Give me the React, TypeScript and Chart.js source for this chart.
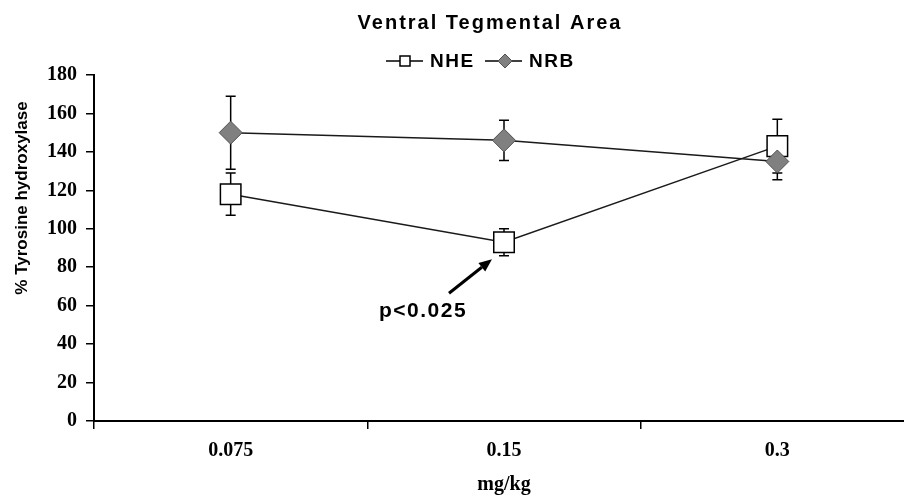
import React, { useEffect, useRef } from 'react';
import { Chart, registerables } from 'chart.js';

Chart.register(...registerables);

// ---- data ----
const doses = ['0.075', '0.15', '0.3'];
const nheValues = [118, 93, 143];
const nheErrors = [11, 7, 14];
const nrbValues = [150, 146, 135];
const nrbErrors = [19, 10.5, 9.5];
const yMin = 0;
const yMax = 180;
const yStep = 20;
const chartTitle = 'Ventral Tegmental Area';
const yTitle = '% Tyrosine hydroxylase';
const xTitle = 'mg/kg';
const pLabel = 'p<0.025';
const seriesNames = ['NHE', 'NRB'];

const W = 930;
const H = 497;
const SANS = '"Liberation Sans", Arial, sans-serif';
const SERIF = '"Liberation Serif", "Times New Roman", serif';

const errorBars = {
  id: 'errorBars',
  beforeDatasetsDraw(chart: any) {
    const ctx = chart.ctx;
    const ys = chart.scales.y;
    chart.data.datasets.forEach((ds: any, i: number) => {
      const meta = chart.getDatasetMeta(i);
      meta.data.forEach((pt: any, j: number) => {
        const v = ds.data[j];
        const e = ds.errors[j];
        const top = ys.getPixelForValue(v + e);
        const bot = ys.getPixelForValue(v - e);
        ctx.save();
        ctx.strokeStyle = '#000';
        ctx.lineWidth = 1.5;
        ctx.beginPath();
        ctx.moveTo(pt.x, top);
        ctx.lineTo(pt.x, bot);
        ctx.moveTo(pt.x - 5, top);
        ctx.lineTo(pt.x + 5, top);
        ctx.moveTo(pt.x - 5, bot);
        ctx.lineTo(pt.x + 5, bot);
        ctx.stroke();
        ctx.restore();
      });
    });
  },
};

const annotations = {
  id: 'annotations',
  afterDraw(chart: any) {
    const ctx = chart.ctx;
    ctx.save();
    ctx.fillStyle = '#000';
    ctx.strokeStyle = '#000';

    // title
    ctx.font = `bold 20px ${SANS}`;
    (ctx as any).letterSpacing = '2px';
    ctx.textAlign = 'center';
    ctx.textBaseline = 'middle';
    ctx.fillText(chartTitle, 490, 23);

    // legend
    const ly = 61;
    ctx.lineWidth = 1.5;
    ctx.beginPath();
    ctx.moveTo(386, ly);
    ctx.lineTo(423, ly);
    ctx.stroke();
    ctx.fillStyle = '#fff';
    ctx.fillRect(400, ly - 5, 10, 10);
    ctx.strokeRect(400, ly - 5, 10, 10);
    ctx.beginPath();
    ctx.moveTo(485, ly);
    ctx.lineTo(522, ly);
    ctx.stroke();
    ctx.beginPath();
    ctx.moveTo(505, ly - 7);
    ctx.lineTo(512, ly);
    ctx.lineTo(505, ly + 7);
    ctx.lineTo(498, ly);
    ctx.closePath();
    ctx.fillStyle = '#808080';
    ctx.fill();
    ctx.lineWidth = 1;
    ctx.strokeStyle = '#505050';
    ctx.stroke();
    ctx.fillStyle = '#000';
    ctx.font = `bold 19px ${SANS}`;
    (ctx as any).letterSpacing = '1.5px';
    ctx.textAlign = 'left';
    ctx.fillText(seriesNames[0], 430, ly + 1);
    ctx.fillText(seriesNames[1], 529, ly + 1);

    // y title
    (ctx as any).letterSpacing = '0px';
    ctx.save();
    ctx.translate(22, 198);
    ctx.rotate(-Math.PI / 2);
    ctx.textAlign = 'center';
    ctx.textBaseline = 'middle';
    ctx.font = `bold 17px ${SANS}`;
    ctx.fillText(yTitle, 0, 0);
    ctx.restore();

    // arrow + p label
    const xs = chart.scales.x;
    const ys = chart.scales.y;
    const px = xs.getPixelForValue(1);
    const py = ys.getPixelForValue(nheValues[1]);
    const tipX = px - 12, tipY = py + 17;
    const tailX = px - 55, tailY = py + 51;
    const ang = Math.atan2(tipY - tailY, tipX - tailX);
    const hl = 13, hw = 5.5;
    const bx = tipX - hl * Math.cos(ang), by = tipY - hl * Math.sin(ang);
    ctx.strokeStyle = '#000';
    ctx.lineWidth = 3;
    ctx.beginPath();
    ctx.moveTo(tailX, tailY);
    ctx.lineTo(bx, by);
    ctx.stroke();
    ctx.beginPath();
    ctx.moveTo(tipX, tipY);
    ctx.lineTo(bx + hw * Math.sin(ang), by - hw * Math.cos(ang));
    ctx.lineTo(bx - hw * Math.sin(ang), by + hw * Math.cos(ang));
    ctx.closePath();
    ctx.fillStyle = '#000';
    ctx.fill();

    ctx.font = `bold 21px ${SANS}`;
    (ctx as any).letterSpacing = '1.5px';
    ctx.textAlign = 'center';
    ctx.textBaseline = 'alphabetic';
    ctx.fillText(pLabel, px - 81, py + 75);
    ctx.restore();
  },
};

export default function App() {
  const ref = useRef<HTMLCanvasElement>(null);

  useEffect(() => {
    if (!ref.current) return;
    const chart = new Chart(ref.current, {
      type: 'line',
      data: {
        labels: doses,
        datasets: [
          {
            label: seriesNames[0],
            data: nheValues,
            errors: nheErrors,
            order: 1,
            borderColor: '#1a1a1a',
            borderWidth: 1.5,
            pointStyle: 'rect',
            pointRadius: 14.5,
            pointBackgroundColor: '#fff',
            pointBorderColor: '#000',
            pointBorderWidth: 1.5,
            tension: 0,
          } as any,
          {
            label: seriesNames[1],
            data: nrbValues,
            errors: nrbErrors,
            order: 0,
            borderColor: '#1a1a1a',
            borderWidth: 1.5,
            pointStyle: 'rectRot',
            pointRadius: 11.5,
            pointBackgroundColor: '#808080',
            pointBorderColor: '#505050',
            pointBorderWidth: 1,
            tension: 0,
          } as any,
        ],
      },
      options: {
        animation: false,
        responsive: false,
        events: [],
        layout: { padding: { top: 75, right: W - 916, left: 0, bottom: 0 } },
        plugins: {
          legend: { display: false },
          title: { display: false },
          tooltip: { enabled: false },
        },
        scales: {
          x: {
            type: 'category',
            offset: true,
            afterFit: (s: any) => {
              s.height = H - 421;
            },
            grid: {
              display: true,
              offset: true,
              drawOnChartArea: false,
              tickLength: 8,
              color: '#000',
              lineWidth: 1.5,
            },
            border: { display: true, color: '#000', width: 2 },
            ticks: {
              color: '#000',
              font: { family: SERIF, size: 20, weight: 'bold' },
              padding: 10,
            },
            title: {
              display: true,
              text: xTitle,
              color: '#000',
              font: { family: SERIF, size: 20, weight: 'bold' },
              padding: { top: 0, bottom: 0 },
            },
          },
          y: {
            min: yMin,
            max: yMax,
            afterFit: (s: any) => {
              s.width = 94;
            },
            grid: {
              display: true,
              drawOnChartArea: false,
              tickLength: 8,
              color: '#000',
              lineWidth: 1.5,
            },
            border: { display: true, color: '#000', width: 2 },
            ticks: {
              stepSize: yStep,
              color: '#000',
              font: { family: SERIF, size: 20, weight: 'bold' },
              padding: 9,
            },
          },
        },
      },
      plugins: [errorBars, annotations],
    } as any);
    return () => chart.destroy();
  }, []);

  return (
    <div
      style={{
        position: 'fixed',
        left: 0,
        top: 0,
        width: 904,
        height: H,
        overflow: 'hidden',
        background: '#fff',
      }}
    >
      <canvas ref={ref} width={W} height={H} style={{ display: 'block', width: W, height: H }} />
    </div>
  );
}
